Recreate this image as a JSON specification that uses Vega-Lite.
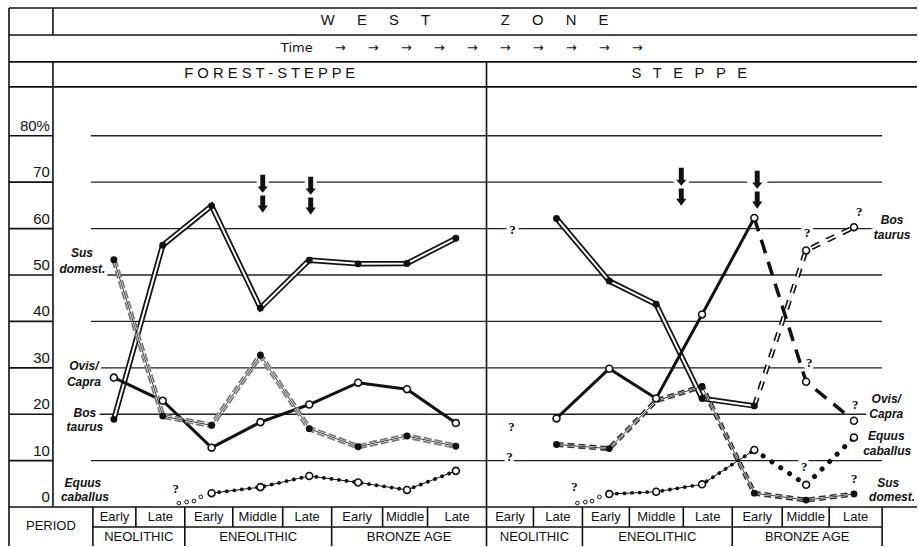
{
  "$schema": "https://vega.github.io/schema/vega-lite/v6.json",
  "width": 918,
  "height": 547,
  "autosize": {"type": "fit", "contains": "padding"},
  "padding": 0,
  "background": "white",
  "config": {"view": {"stroke": null}, "font": "Liberation Sans"},
  "datasets": {
    "frame": [
      {"x": -1.147, "x2": 17.441, "y": 107.53, "y2": 107.53},
      {"x": -1.147, "x2": 17.441, "y": 101.72, "y2": 101.72},
      {"x": -1.147, "x2": 17.441, "y": 95.91, "y2": 95.91},
      {"x": -1.147, "x2": 17.441, "y": 90.54, "y2": 90.54},
      {"x": -1.147, "x2": 17.441, "y": 0, "y2": 0},
      {"x": 0.571, "x2": 16.726, "y": -4.3, "y2": -4.3},
      {"x": -1.147, "x2": -0.247, "y": 80, "y2": 80},
      {"x": -1.147, "x2": -0.247, "y": 70, "y2": 70},
      {"x": -1.147, "x2": -0.247, "y": 60, "y2": 60},
      {"x": -1.147, "x2": -0.247, "y": 50, "y2": 50},
      {"x": -1.147, "x2": -0.247, "y": 40, "y2": 40},
      {"x": -1.147, "x2": -0.247, "y": 30, "y2": 30},
      {"x": -1.147, "x2": -0.247, "y": 20, "y2": 20},
      {"x": -1.147, "x2": -0.247, "y": 10, "y2": 10},
      {"x": -1.147, "x2": -1.147, "y": 107.53, "y2": -8.387},
      {"x": -0.247, "x2": -0.247, "y": 107.53, "y2": 101.72},
      {"x": -0.247, "x2": -0.247, "y": 95.91, "y2": 0},
      {"x": 8.628, "x2": 8.628, "y": 95.91, "y2": -8.387},
      {"x": 0.571, "x2": 0.571, "y": 0, "y2": -8.387},
      {"x": 2.452, "x2": 2.452, "y": 0, "y2": -8.387},
      {"x": 5.458, "x2": 5.458, "y": 0, "y2": -8.387},
      {"x": 10.591, "x2": 10.591, "y": 0, "y2": -8.387},
      {"x": 13.658, "x2": 13.658, "y": 0, "y2": -8.387},
      {"x": 16.726, "x2": 16.726, "y": 0, "y2": -8.387},
      {"x": 1.45, "x2": 1.45, "y": 0, "y2": -4.3},
      {"x": 3.434, "x2": 3.434, "y": 0, "y2": -4.3},
      {"x": 4.456, "x2": 4.456, "y": 0, "y2": -4.3},
      {"x": 6.501, "x2": 6.501, "y": 0, "y2": -4.3},
      {"x": 7.421, "x2": 7.421, "y": 0, "y2": -4.3},
      {"x": 9.589, "x2": 9.589, "y": 0, "y2": -4.3},
      {"x": 11.552, "x2": 11.552, "y": 0, "y2": -4.3},
      {"x": 12.656, "x2": 12.656, "y": 0, "y2": -4.3},
      {"x": 14.681, "x2": 14.681, "y": 0, "y2": -4.3},
      {"x": 15.642, "x2": 15.642, "y": 0, "y2": -4.3}
    ],
    "grid": [{"y": 10}, {"y": 20}, {"y": 30}, {"y": 40}, {"y": 50}, {"y": 60}, {"y": 70}, {"y": 80}],
    "ticks": [
      {"y": 80, "t": "80%"}, {"y": 70, "t": "70"}, {"y": 60, "t": "60"}, {"y": 50, "t": "50"},
      {"y": 40, "t": "40"}, {"y": 30, "t": "30"}, {"y": 20, "t": "20"}, {"y": 10, "t": "10"}, {"y": 0, "t": "0"}
    ],
    "headers": [
      {"x": 8.18, "y": 104.73, "t": "W\u2003\u2002E\u2003\u2002S\u2003\u2002T\u2003\u2003\u2003\u2003\u2002 Z\u2003\u2002O\u2003\u2002N\u2003\u2002E"},
      {"x": 4.19, "y": 93.33, "t": "F O R E S T - S T E P P E"},
      {"x": 12.78, "y": 93.33, "t": "S\u2002 T\u2002 E\u2002 P\u2002 P\u2002 E"}
    ],
    "timeRow": [
      {"x": 8.12, "y": 98.92, "t": "Time\u2003\u2002\u2009→\u2003\u2002\u2009→\u2003\u2002\u2009→\u2003\u2002\u2009→\u2003\u2002\u2009→\u2003\u2002\u2009→\u2003\u2002\u2009→\u2003\u2002\u2009→\u2003\u2002\u2009→\u2003\u2002\u2009→"}
    ],
    "table": [
      {"x": -0.288, "y": -4.09, "t": "PERIOD"},
      {"x": 1.012, "y": -2.15, "t": "Early"},
      {"x": 1.951, "y": -2.15, "t": "Late"},
      {"x": 2.943, "y": -2.15, "t": "Early"},
      {"x": 3.945, "y": -2.15, "t": "Middle"},
      {"x": 4.957, "y": -2.15, "t": "Late"},
      {"x": 5.98, "y": -2.15, "t": "Early"},
      {"x": 6.961, "y": -2.15, "t": "Middle"},
      {"x": 8.025, "y": -2.15, "t": "Late"},
      {"x": 9.108, "y": -2.15, "t": "Early"},
      {"x": 10.09, "y": -2.15, "t": "Late"},
      {"x": 11.071, "y": -2.15, "t": "Early"},
      {"x": 12.104, "y": -2.15, "t": "Middle"},
      {"x": 13.157, "y": -2.15, "t": "Late"},
      {"x": 14.17, "y": -2.15, "t": "Early"},
      {"x": 15.162, "y": -2.15, "t": "Middle"},
      {"x": 16.184, "y": -2.15, "t": "Late"},
      {"x": 1.511, "y": -6.45, "t": "NEOLITHIC"},
      {"x": 3.955, "y": -6.45, "t": "ENEOLITHIC"},
      {"x": 7.043, "y": -6.45, "t": "BRONZE AGE"},
      {"x": 9.609, "y": -6.45, "t": "NEOLITHIC"},
      {"x": 12.125, "y": -6.45, "t": "ENEOLITHIC"},
      {"x": 15.192, "y": -6.45, "t": "BRONZE AGE"}
    ],
    "series": [
      {"g": "Lbos", "s": "dbl", "x": 1, "y": 18.9, "p": "f"},
      {"g": "Lbos", "s": "dbl", "x": 2, "y": 56.4, "p": "f"},
      {"g": "Lbos", "s": "dbl", "x": 3, "y": 64.9, "p": "f"},
      {"g": "Lbos", "s": "dbl", "x": 4, "y": 42.9, "p": "f"},
      {"g": "Lbos", "s": "dbl", "x": 5, "y": 53.2, "p": "f"},
      {"g": "Lbos", "s": "dbl", "x": 6, "y": 52.4, "p": "f"},
      {"g": "Lbos", "s": "dbl", "x": 7, "y": 52.5, "p": "f"},
      {"g": "Lbos", "s": "dbl", "x": 8, "y": 57.9, "p": "f"},
      {"g": "Lsus", "s": "susg", "x": 1, "y": 53.3, "p": "f"},
      {"g": "Lsus", "s": "susg", "x": 2, "y": 19.6, "p": "f"},
      {"g": "Lsus", "s": "susg", "x": 3, "y": 17.6, "p": "f"},
      {"g": "Lsus", "s": "susg", "x": 4, "y": 32.7, "p": "f"},
      {"g": "Lsus", "s": "susg", "x": 5, "y": 16.9, "p": "f"},
      {"g": "Lsus", "s": "susg", "x": 6, "y": 13.0, "p": "f"},
      {"g": "Lsus", "s": "susg", "x": 7, "y": 15.3, "p": "f"},
      {"g": "Lsus", "s": "susg", "x": 8, "y": 13.1, "p": "f"},
      {"g": "Lovis", "s": "solid", "x": 1, "y": 27.9, "p": "o"},
      {"g": "Lovis", "s": "solid", "x": 2, "y": 22.9, "p": "o"},
      {"g": "Lovis", "s": "solid", "x": 3, "y": 12.8, "p": "o"},
      {"g": "Lovis", "s": "solid", "x": 4, "y": 18.3, "p": "o"},
      {"g": "Lovis", "s": "solid", "x": 5, "y": 22.1, "p": "o"},
      {"g": "Lovis", "s": "solid", "x": 6, "y": 26.8, "p": "o"},
      {"g": "Lovis", "s": "solid", "x": 7, "y": 25.4, "p": "o"},
      {"g": "Lovis", "s": "solid", "x": 8, "y": 18.1, "p": "o"},
      {"g": "Leq", "s": "dot", "x": 3, "y": 3.0, "p": "o"},
      {"g": "Leq", "s": "dot", "x": 4, "y": 4.3, "p": "o"},
      {"g": "Leq", "s": "dot", "x": 5, "y": 6.7, "p": "o"},
      {"g": "Leq", "s": "dot", "x": 6, "y": 5.3, "p": "o"},
      {"g": "Leq", "s": "dot", "x": 7, "y": 3.7, "p": "o"},
      {"g": "Leq", "s": "dot", "x": 8, "y": 7.8, "p": "o"},
      {"g": "Ls", "s": "none", "x": 2.33, "y": 0.86, "p": "s"},
      {"g": "Ls", "s": "none", "x": 2.49, "y": 1.08, "p": "s"},
      {"g": "Ls", "s": "none", "x": 2.64, "y": 1.29, "p": "s"},
      {"g": "Ls", "s": "none", "x": 2.78, "y": 2.2, "p": "s"},
      {"g": "Rbos", "s": "dbl", "x": 10.06, "y": 62.2, "p": "f"},
      {"g": "Rbos", "s": "dbl", "x": 11.14, "y": 48.7, "p": "f"},
      {"g": "Rbos", "s": "dbl", "x": 12.1, "y": 43.7, "p": "f"},
      {"g": "Rbos", "s": "dbl", "x": 13.04, "y": 23.4, "p": "f"},
      {"g": "Rbos", "s": "dbl", "x": 14.11, "y": 21.8, "p": "f"},
      {"g": "Rbos2", "s": "dbldash", "x": 14.11, "y": 21.8, "p": "n"},
      {"g": "Rbos2", "s": "dbldash", "x": 15.17, "y": 55.3, "p": "o"},
      {"g": "Rbos2", "s": "dbldash", "x": 16.15, "y": 60.3, "p": "o"},
      {"g": "Rovis", "s": "solid", "x": 10.06, "y": 19.1, "p": "o"},
      {"g": "Rovis", "s": "solid", "x": 11.14, "y": 29.8, "p": "o"},
      {"g": "Rovis", "s": "solid", "x": 12.1, "y": 23.4, "p": "o"},
      {"g": "Rovis", "s": "solid", "x": 13.04, "y": 41.5, "p": "o"},
      {"g": "Rovis", "s": "solid", "x": 14.11, "y": 62.3, "p": "o"},
      {"g": "Rovis2", "s": "heavydash", "x": 14.11, "y": 62.3, "p": "n"},
      {"g": "Rovis2", "s": "heavydash", "x": 15.17, "y": 27.0, "p": "o"},
      {"g": "Rovis2", "s": "heavydash", "x": 16.15, "y": 18.6, "p": "o"},
      {"g": "Rsus", "s": "susd", "x": 10.06, "y": 13.5, "p": "f"},
      {"g": "Rsus", "s": "susd", "x": 11.14, "y": 12.6, "p": "f"},
      {"g": "Rsus", "s": "susd", "x": 12.1, "y": 22.9, "p": "n"},
      {"g": "Rsus", "s": "susd", "x": 13.04, "y": 26.0, "p": "f"},
      {"g": "Rsus", "s": "susd", "x": 14.11, "y": 3.0, "p": "f"},
      {"g": "Rsus", "s": "susd", "x": 15.17, "y": 1.5, "p": "f"},
      {"g": "Rsus", "s": "susd", "x": 16.15, "y": 2.8, "p": "f"},
      {"g": "Req", "s": "dot", "x": 11.14, "y": 2.8, "p": "o"},
      {"g": "Req", "s": "dot", "x": 12.1, "y": 3.3, "p": "o"},
      {"g": "Req", "s": "dot", "x": 13.04, "y": 4.9, "p": "o"},
      {"g": "Req", "s": "dot", "x": 14.11, "y": 12.3, "p": "o"},
      {"g": "Req2", "s": "bigdot", "x": 14.11, "y": 12.3, "p": "n"},
      {"g": "Req2", "s": "bigdot", "x": 15.17, "y": 4.8, "p": "o"},
      {"g": "Req2", "s": "bigdot", "x": 16.15, "y": 15.0, "p": "o"},
      {"g": "Rs", "s": "none", "x": 10.49, "y": 0.86, "p": "s"},
      {"g": "Rs", "s": "none", "x": 10.65, "y": 1.08, "p": "s"},
      {"g": "Rs", "s": "none", "x": 10.79, "y": 1.29, "p": "s"},
      {"g": "Rs", "s": "none", "x": 10.94, "y": 2.2, "p": "s"}
    ],
    "species": [
      {"x": 0.345, "y": 54.84, "t": "Sus"},
      {"x": 0.356, "y": 51.4, "t": "domest."},
      {"x": 0.387, "y": 30.32, "t": "Ovis/"},
      {"x": 0.387, "y": 26.95, "t": "Capra"},
      {"x": 0.407, "y": 20.22, "t": "Bos"},
      {"x": 0.407, "y": 17.2, "t": "taurus"},
      {"x": 0.366, "y": 5.16, "t": "Equus"},
      {"x": 0.407, "y": 2.15, "t": "caballus"},
      {"x": 16.93, "y": 61.94, "t": "Bos"},
      {"x": 16.93, "y": 58.71, "t": "taurus"},
      {"x": 16.81, "y": 23.23, "t": "Ovis/"},
      {"x": 16.81, "y": 20.0, "t": "Capra"},
      {"x": 16.81, "y": 15.27, "t": "Equus"},
      {"x": 16.83, "y": 12.04, "t": "caballus"},
      {"x": 16.85, "y": 5.16, "t": "Sus"},
      {"x": 16.93, "y": 2.15, "t": "domest."}
    ],
    "queries": [
      {"x": 2.268, "y": 3.87}, {"x": 9.159, "y": 59.78}, {"x": 9.139, "y": 17.2},
      {"x": 9.098, "y": 10.75}, {"x": 10.427, "y": 4.3}, {"x": 15.192, "y": 59.14},
      {"x": 16.257, "y": 63.66}, {"x": 15.233, "y": 30.97}, {"x": 16.176, "y": 21.94},
      {"x": 15.131, "y": 8.6}, {"x": 16.155, "y": 6.02}
    ],
    "arrows": [
      {"x": 4.047, "y": 67.53}, {"x": 5.029, "y": 67.1}, {"x": 12.615, "y": 69.03}, {"x": 14.169, "y": 68.39}
    ]
  },
  "layer": [
    {
      "data": {"name": "frame"},
      "mark": {"type": "rule", "color": "#111", "strokeWidth": 1.6},
      "encoding": {
        "x": {"field": "x", "type": "quantitative", "scale": {"domain": [-1.331, 17.44], "nice": false, "zero": false}, "axis": null},
        "y": {"field": "y", "type": "quantitative", "scale": {"domain": [-8.387, 109.25], "nice": false, "zero": false}, "axis": null},
        "x2": {"field": "x2"}, "y2": {"field": "y2"}
      }
    },
    {
      "data": {"name": "grid"},
      "mark": {"type": "rule", "color": "#222", "strokeWidth": 1.3},
      "encoding": {
        "x": {"datum": 0.53, "type": "quantitative", "scale": {"domain": [-1.331, 17.44], "nice": false, "zero": false}, "axis": null},
        "x2": {"datum": 16.726},
        "y": {"field": "y", "type": "quantitative", "scale": {"domain": [-8.387, 109.25], "nice": false, "zero": false}, "axis": null}
      }
    },
    {
      "data": {"name": "ticks"},
      "mark": {"type": "text", "align": "right", "baseline": "middle", "dy": -10, "fontSize": 15, "color": "#111"},
      "encoding": {
        "x": {"datum": -0.309, "type": "quantitative", "scale": {"domain": [-1.331, 17.44], "nice": false, "zero": false}, "axis": null},
        "y": {"field": "y", "type": "quantitative", "scale": {"domain": [-8.387, 109.25], "nice": false, "zero": false}, "axis": null},
        "text": {"field": "t"}
      }
    },
    {
      "data": {"name": "headers"},
      "mark": {"type": "text", "align": "center", "baseline": "middle", "fontSize": 14.8, "color": "#111"},
      "encoding": {
        "x": {"field": "x", "type": "quantitative", "scale": {"domain": [-1.331, 17.44], "nice": false, "zero": false}, "axis": null},
        "y": {"field": "y", "type": "quantitative", "scale": {"domain": [-8.387, 109.25], "nice": false, "zero": false}, "axis": null},
        "text": {"field": "t"}
      }
    },
    {
      "data": {"name": "timeRow"},
      "mark": {"type": "text", "align": "center", "baseline": "middle", "fontSize": 13, "font": "DejaVu Sans", "color": "#111"},
      "encoding": {
        "x": {"field": "x", "type": "quantitative", "scale": {"domain": [-1.331, 17.44], "nice": false, "zero": false}, "axis": null},
        "y": {"field": "y", "type": "quantitative", "scale": {"domain": [-8.387, 109.25], "nice": false, "zero": false}, "axis": null},
        "text": {"field": "t"}
      }
    },
    {
      "data": {"name": "table"},
      "mark": {"type": "text", "align": "center", "baseline": "middle", "fontSize": 13, "color": "#111"},
      "encoding": {
        "x": {"field": "x", "type": "quantitative", "scale": {"domain": [-1.331, 17.44], "nice": false, "zero": false}, "axis": null},
        "y": {"field": "y", "type": "quantitative", "scale": {"domain": [-8.387, 109.25], "nice": false, "zero": false}, "axis": null},
        "text": {"field": "t"}
      }
    },
    {
      "data": {"name": "species"},
      "mark": {"type": "text", "align": "center", "baseline": "middle", "fontSize": 12, "fontWeight": "bold", "fontStyle": "italic", "color": "white", "stroke": "white", "strokeWidth": 7},
      "encoding": {
        "x": {"field": "x", "type": "quantitative", "scale": {"domain": [-1.331, 17.44], "nice": false, "zero": false}, "axis": null},
        "y": {"field": "y", "type": "quantitative", "scale": {"domain": [-8.387, 109.25], "nice": false, "zero": false}, "axis": null},
        "text": {"field": "t"}
      }
    },
    {
      "data": {"name": "queries"},
      "mark": {"type": "text", "align": "center", "baseline": "middle", "fontSize": 13, "fontWeight": "bold", "font": "Liberation Serif", "color": "white", "stroke": "white", "strokeWidth": 7, "text": "?"},
      "encoding": {
        "x": {"field": "x", "type": "quantitative", "scale": {"domain": [-1.331, 17.44], "nice": false, "zero": false}, "axis": null},
        "y": {"field": "y", "type": "quantitative", "scale": {"domain": [-8.387, 109.25], "nice": false, "zero": false}, "axis": null}
      }
    },
    {
      "data": {"name": "series"},
      "transform": [{"filter": "datum.s === 'dbl'"}],
      "mark": {"type": "line", "color": "#111", "strokeWidth": 5.5},
      "encoding": {
        "x": {"field": "x", "type": "quantitative", "scale": {"domain": [-1.331, 17.44], "nice": false, "zero": false}, "axis": null},
        "y": {"field": "y", "type": "quantitative", "scale": {"domain": [-8.387, 109.25], "nice": false, "zero": false}, "axis": null},
        "detail": {"field": "g"}
      }
    },
    {
      "data": {"name": "series"},
      "transform": [{"filter": "datum.s === 'dbl'"}],
      "mark": {"type": "line", "color": "white", "strokeWidth": 2},
      "encoding": {
        "x": {"field": "x", "type": "quantitative", "scale": {"domain": [-1.331, 17.44], "nice": false, "zero": false}, "axis": null},
        "y": {"field": "y", "type": "quantitative", "scale": {"domain": [-8.387, 109.25], "nice": false, "zero": false}, "axis": null},
        "detail": {"field": "g"}
      }
    },
    {
      "data": {"name": "series"},
      "transform": [{"filter": "datum.s === 'dbldash'"}],
      "mark": {"type": "line", "color": "#111", "strokeWidth": 5, "strokeDash": [9, 8]},
      "encoding": {
        "x": {"field": "x", "type": "quantitative", "scale": {"domain": [-1.331, 17.44], "nice": false, "zero": false}, "axis": null},
        "y": {"field": "y", "type": "quantitative", "scale": {"domain": [-8.387, 109.25], "nice": false, "zero": false}, "axis": null},
        "detail": {"field": "g"}
      }
    },
    {
      "data": {"name": "series"},
      "transform": [{"filter": "datum.s === 'dbldash'"}],
      "mark": {"type": "line", "color": "white", "strokeWidth": 1.8, "strokeDash": [9, 8]},
      "encoding": {
        "x": {"field": "x", "type": "quantitative", "scale": {"domain": [-1.331, 17.44], "nice": false, "zero": false}, "axis": null},
        "y": {"field": "y", "type": "quantitative", "scale": {"domain": [-8.387, 109.25], "nice": false, "zero": false}, "axis": null},
        "detail": {"field": "g"}
      }
    },
    {
      "data": {"name": "series"},
      "transform": [{"filter": "datum.s === 'solid'"}],
      "mark": {"type": "line", "color": "#111", "strokeWidth": 3},
      "encoding": {
        "x": {"field": "x", "type": "quantitative", "scale": {"domain": [-1.331, 17.44], "nice": false, "zero": false}, "axis": null},
        "y": {"field": "y", "type": "quantitative", "scale": {"domain": [-8.387, 109.25], "nice": false, "zero": false}, "axis": null},
        "detail": {"field": "g"}
      }
    },
    {
      "data": {"name": "series"},
      "transform": [{"filter": "datum.s === 'heavydash'"}],
      "mark": {"type": "line", "color": "#111", "strokeWidth": 3.5, "strokeDash": [14, 9]},
      "encoding": {
        "x": {"field": "x", "type": "quantitative", "scale": {"domain": [-1.331, 17.44], "nice": false, "zero": false}, "axis": null},
        "y": {"field": "y", "type": "quantitative", "scale": {"domain": [-8.387, 109.25], "nice": false, "zero": false}, "axis": null},
        "detail": {"field": "g"}
      }
    },
    {
      "data": {"name": "series"},
      "transform": [{"filter": "datum.s === 'susg'"}],
      "mark": {"type": "line", "color": "#7a7a7a", "strokeWidth": 5.5, "strokeDash": [8, 3]},
      "encoding": {
        "x": {"field": "x", "type": "quantitative", "scale": {"domain": [-1.331, 17.44], "nice": false, "zero": false}, "axis": null},
        "y": {"field": "y", "type": "quantitative", "scale": {"domain": [-8.387, 109.25], "nice": false, "zero": false}, "axis": null},
        "detail": {"field": "g"}
      }
    },
    {
      "data": {"name": "series"},
      "transform": [{"filter": "datum.s === 'susg'"}],
      "mark": {"type": "line", "color": "white", "strokeWidth": 2, "strokeDash": [8, 3]},
      "encoding": {
        "x": {"field": "x", "type": "quantitative", "scale": {"domain": [-1.331, 17.44], "nice": false, "zero": false}, "axis": null},
        "y": {"field": "y", "type": "quantitative", "scale": {"domain": [-8.387, 109.25], "nice": false, "zero": false}, "axis": null},
        "detail": {"field": "g"}
      }
    },
    {
      "data": {"name": "series"},
      "transform": [{"filter": "datum.s === 'susd'"}],
      "mark": {"type": "line", "color": "#333", "strokeWidth": 5, "strokeDash": [7, 4]},
      "encoding": {
        "x": {"field": "x", "type": "quantitative", "scale": {"domain": [-1.331, 17.44], "nice": false, "zero": false}, "axis": null},
        "y": {"field": "y", "type": "quantitative", "scale": {"domain": [-8.387, 109.25], "nice": false, "zero": false}, "axis": null},
        "detail": {"field": "g"}
      }
    },
    {
      "data": {"name": "series"},
      "transform": [{"filter": "datum.s === 'susd'"}],
      "mark": {"type": "line", "color": "white", "strokeWidth": 1.8, "strokeDash": [7, 4]},
      "encoding": {
        "x": {"field": "x", "type": "quantitative", "scale": {"domain": [-1.331, 17.44], "nice": false, "zero": false}, "axis": null},
        "y": {"field": "y", "type": "quantitative", "scale": {"domain": [-8.387, 109.25], "nice": false, "zero": false}, "axis": null},
        "detail": {"field": "g"}
      }
    },
    {
      "data": {"name": "series"},
      "transform": [{"filter": "datum.s === 'susg' || datum.s === 'susd'"}],
      "mark": {"type": "line", "color": "#111", "strokeWidth": 0.8},
      "encoding": {
        "x": {"field": "x", "type": "quantitative", "scale": {"domain": [-1.331, 17.44], "nice": false, "zero": false}, "axis": null},
        "y": {"field": "y", "type": "quantitative", "scale": {"domain": [-8.387, 109.25], "nice": false, "zero": false}, "axis": null},
        "detail": {"field": "g"}
      }
    },
    {
      "data": {"name": "series"},
      "transform": [{"filter": "datum.s === 'dot'"}],
      "mark": {"type": "line", "color": "#111", "strokeWidth": 1},
      "encoding": {
        "x": {"field": "x", "type": "quantitative", "scale": {"domain": [-1.331, 17.44], "nice": false, "zero": false}, "axis": null},
        "y": {"field": "y", "type": "quantitative", "scale": {"domain": [-8.387, 109.25], "nice": false, "zero": false}, "axis": null},
        "detail": {"field": "g"}
      }
    },
    {
      "data": {"name": "series"},
      "transform": [{"filter": "datum.s === 'dot'"}],
      "mark": {"type": "line", "color": "#111", "strokeWidth": 3.8, "strokeDash": [0.1, 7.5], "strokeCap": "round"},
      "encoding": {
        "x": {"field": "x", "type": "quantitative", "scale": {"domain": [-1.331, 17.44], "nice": false, "zero": false}, "axis": null},
        "y": {"field": "y", "type": "quantitative", "scale": {"domain": [-8.387, 109.25], "nice": false, "zero": false}, "axis": null},
        "detail": {"field": "g"}
      }
    },
    {
      "data": {"name": "series"},
      "transform": [{"filter": "datum.s === 'bigdot'"}],
      "mark": {"type": "line", "color": "#111", "strokeWidth": 5, "strokeDash": [0.1, 10.5], "strokeCap": "round"},
      "encoding": {
        "x": {"field": "x", "type": "quantitative", "scale": {"domain": [-1.331, 17.44], "nice": false, "zero": false}, "axis": null},
        "y": {"field": "y", "type": "quantitative", "scale": {"domain": [-8.387, 109.25], "nice": false, "zero": false}, "axis": null},
        "detail": {"field": "g"}
      }
    },
    {
      "data": {"name": "series"},
      "transform": [{"filter": "datum.p === 'f'"}],
      "mark": {"type": "point", "shape": "circle", "filled": true, "color": "#111", "size": 48, "opacity": 1},
      "encoding": {
        "x": {"field": "x", "type": "quantitative", "scale": {"domain": [-1.331, 17.44], "nice": false, "zero": false}, "axis": null},
        "y": {"field": "y", "type": "quantitative", "scale": {"domain": [-8.387, 109.25], "nice": false, "zero": false}, "axis": null}
      }
    },
    {
      "data": {"name": "series"},
      "transform": [{"filter": "datum.p === 'o'"}],
      "mark": {"type": "point", "shape": "circle", "filled": true, "fill": "white", "stroke": "#111", "strokeWidth": 1.6, "size": 48, "opacity": 1},
      "encoding": {
        "x": {"field": "x", "type": "quantitative", "scale": {"domain": [-1.331, 17.44], "nice": false, "zero": false}, "axis": null},
        "y": {"field": "y", "type": "quantitative", "scale": {"domain": [-8.387, 109.25], "nice": false, "zero": false}, "axis": null}
      }
    },
    {
      "data": {"name": "series"},
      "transform": [{"filter": "datum.p === 's'"}],
      "mark": {"type": "point", "shape": "circle", "filled": true, "fill": "white", "stroke": "#111", "strokeWidth": 1, "size": 14, "opacity": 1},
      "encoding": {
        "x": {"field": "x", "type": "quantitative", "scale": {"domain": [-1.331, 17.44], "nice": false, "zero": false}, "axis": null},
        "y": {"field": "y", "type": "quantitative", "scale": {"domain": [-8.387, 109.25], "nice": false, "zero": false}, "axis": null}
      }
    },
    {
      "data": {"name": "species"},
      "mark": {"type": "text", "align": "center", "baseline": "middle", "fontSize": 12, "fontWeight": "bold", "fontStyle": "italic", "color": "#111"},
      "encoding": {
        "x": {"field": "x", "type": "quantitative", "scale": {"domain": [-1.331, 17.44], "nice": false, "zero": false}, "axis": null},
        "y": {"field": "y", "type": "quantitative", "scale": {"domain": [-8.387, 109.25], "nice": false, "zero": false}, "axis": null},
        "text": {"field": "t"}
      }
    },
    {
      "data": {"name": "queries"},
      "mark": {"type": "text", "align": "center", "baseline": "middle", "fontSize": 13, "fontWeight": "bold", "font": "Liberation Serif", "color": "#111", "text": "?"},
      "encoding": {
        "x": {"field": "x", "type": "quantitative", "scale": {"domain": [-1.331, 17.44], "nice": false, "zero": false}, "axis": null},
        "y": {"field": "y", "type": "quantitative", "scale": {"domain": [-8.387, 109.25], "nice": false, "zero": false}, "axis": null}
      }
    },
    {
      "data": {"name": "arrows"},
      "mark": {"type": "point", "shape": "M-0.13,-1L0.13,-1L0.13,-0.37L0.27,-0.37L0,-0.05L-0.27,-0.37L-0.13,-0.37ZM-0.13,0.1L0.13,0.1L0.13,0.63L0.27,0.63L0,1L-0.27,0.63L-0.13,0.63Z", "filled": true, "fill": "white", "stroke": "white", "strokeWidth": 7, "size": 1444, "opacity": 1},
      "encoding": {
        "x": {"field": "x", "type": "quantitative", "scale": {"domain": [-1.331, 17.44], "nice": false, "zero": false}, "axis": null},
        "y": {"field": "y", "type": "quantitative", "scale": {"domain": [-8.387, 109.25], "nice": false, "zero": false}, "axis": null}
      }
    },
    {
      "data": {"name": "arrows"},
      "mark": {"type": "point", "shape": "M-0.13,-1L0.13,-1L0.13,-0.37L0.27,-0.37L0,-0.05L-0.27,-0.37L-0.13,-0.37ZM-0.13,0.1L0.13,0.1L0.13,0.63L0.27,0.63L0,1L-0.27,0.63L-0.13,0.63Z", "filled": true, "fill": "#111", "size": 1444, "opacity": 1},
      "encoding": {
        "x": {"field": "x", "type": "quantitative", "scale": {"domain": [-1.331, 17.44], "nice": false, "zero": false}, "axis": null},
        "y": {"field": "y", "type": "quantitative", "scale": {"domain": [-8.387, 109.25], "nice": false, "zero": false}, "axis": null}
      }
    }
  ]
}
